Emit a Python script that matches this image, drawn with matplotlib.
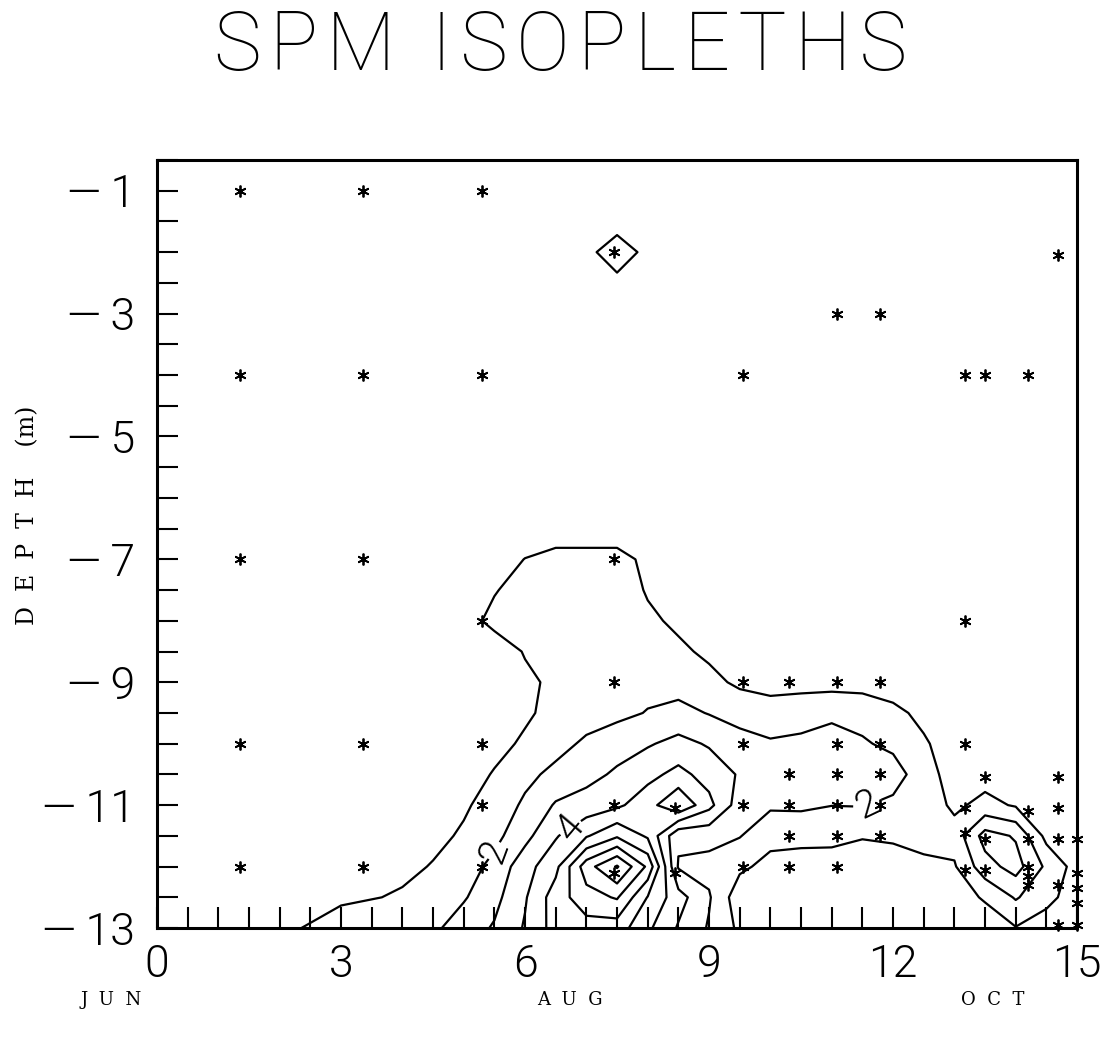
import numpy as np
import matplotlib.pyplot as plt
from matplotlib.ticker import FixedLocator, MultipleLocator

plt.rcParams['font.family'] = ['Roboto', 'DejaVu Sans']

# sampling grid (time index, depth in m) for the gridded SPM field
x_nodes = [0, 1, 2, 3, 4, 4.5, 5, 5.5, 6, 6.5, 7, 7.5, 8, 8.5, 9, 9.5,
           10, 10.5, 11, 11.5, 12, 12.5, 13, 13.5, 14, 14.5, 15]
depth_nodes = [-13, -12.5, -12, -11.5, -11, -10.5, -10, -9.5, -9, -8.5,
               -8, -7.5, -7, -6.5, -6]

spm_m13 = [0.3, 0.5, 0.7, 1.55, 1.7, 1.8, 2.5, 3.1, 4.1, 5.4, 5.6, 5.5, 4.2, 2.9,
           1.9, 0.8, 0.5, 0.5, 0.5, 0.5, 0.5, 0.5, 0.5, 0.5, 0.95, 0.5, 0.4]
spm_m12_5 = [0.3, 0.5, 0.7, 0.8, 1.1, 1.5, 1.9, 2.7, 3.9, 5.5, 6.6, 7.1, 4.95, 3.4,
             2.1, 0.4, 0.5, 0.5, 0.5, 0.5, 0.5, 0.5, 0.6, 1.1, 2.1, 1.3, 0.5]
spm_m12 = [0.3, 0.5, 0.6, 0.7, 0.8, 1.05, 1.5, 2.3, 3.6, 4.72, 7.57, 9.1, 6.8, 1.9,
           1.7, 1.2, 0.7, 0.7, 0.75, 0.6, 0.7, 0.8, 0.9, 2.6, 3.4, 1.8, 0.6]
spm_m11_5 = [0.3, 0.5, 0.6, 0.65, 0.7, 0.8, 1.1, 1.7, 2.7, 3.9, 4.9, 5.86, 4.85, 2.2,
             2.3, 2.05, 1.3, 1.2, 1.15, 1.05, 1.1, 1.3, 1.4, 3.4, 2.9, 0.7, 0.4]
spm_m11 = [0.3, 0.5, 0.6, 0.6, 0.65, 0.7, 0.9, 1.3, 2.2, 3.1, 3.4, 3.8, 4.6, 5.9,
           4.3, 2.5, 2.15, 2.2, 2.02, 2.05, 1.8, 1.6, 0.8, 1.3, 0.9, 0.5, 0.4]
spm_m10_5 = [0.3, 0.4, 0.5, 0.55, 0.6, 0.65, 0.7, 1.05, 1.7, 2.3, 2.7, 3.15, 3.7, 4.3,
             3.6, 2.9, 2.5, 2.5, 2.5, 2.5, 2.4, 1.5, 0.5, 0.6, 0.5, 0.4, 0.4]
spm_m10 = [0.3, 0.4, 0.5, 0.5, 0.55, 0.6, 0.65, 0.8, 1.1, 1.6, 2.2, 2.6, 2.9, 3.3,
           2.9, 2.3, 2.1, 2.15, 2.2, 2.1, 1.8, 1.1, 0.6, 0.5, 0.4, 0.4, 0.4]
spm_m9_5 = [0.3, 0.4, 0.4, 0.5, 0.5, 0.55, 0.6, 0.7, 0.9, 1.2, 1.5, 1.74, 2.05, 2.3,
            1.95, 1.7, 1.5, 1.7, 1.9, 1.7, 1.2, 0.8, 0.5, 0.4, 0.4, 0.4, 0.4]
spm_m9 = [0.3, 0.4, 0.4, 0.4, 0.45, 0.5, 0.55, 0.65, 0.85, 1.15, 1.4, 1.6, 1.7, 1.6,
          1.3, 0.8, 0.6, 0.6, 0.6, 0.6, 0.6, 0.6, 0.5, 0.4, 0.4, 0.4, 0.4]
spm_m8_5 = [0.3, 0.35, 0.4, 0.4, 0.4, 0.45, 0.5, 0.6, 1.05, 1.3, 1.45, 1.5, 1.45, 1.2,
            0.8, 0.5, 0.5, 0.45, 0.45, 0.45, 0.45, 0.45, 0.4, 0.4, 0.4, 0.4, 0.4]
spm_m8 = [0.3, 0.35, 0.4, 0.4, 0.4, 0.45, 0.7, 1.2, 1.35, 1.45, 1.5, 1.5, 1.2, 0.8,
          0.5, 0.45, 0.45, 0.45, 0.45, 0.45, 0.45, 0.45, 0.4, 0.4, 0.4, 0.4, 0.4]
spm_m7_5 = [0.3, 0.35, 0.4, 0.4, 0.4, 0.45, 0.6, 0.95, 1.3, 1.45, 1.55, 1.6, 0.9, 0.6,
            0.5, 0.45, 0.45, 0.45, 0.45, 0.45, 0.45, 0.45, 0.4, 0.4, 0.4, 0.4, 0.4]
spm_m7 = [0.3, 0.35, 0.4, 0.4, 0.4, 0.45, 0.45, 0.6, 1.02, 1.3, 1.3, 1.3, 0.8, 0.5,
          0.45, 0.45, 0.45, 0.45, 0.45, 0.45, 0.45, 0.45, 0.4, 0.4, 0.4, 0.4, 0.4]
spm_m6_5 = [0.3, 0.35, 0.4, 0.4, 0.4, 0.4, 0.4, 0.45, 0.5, 0.5, 0.5, 0.5, 0.45, 0.45,
            0.4, 0.4, 0.4, 0.4, 0.4, 0.4, 0.4, 0.4, 0.4, 0.4, 0.4, 0.4, 0.4]
spm_m6 = [0.4] * 27

spm = np.array([spm_m13, spm_m12_5, spm_m12, spm_m11_5, spm_m11, spm_m10_5,
                spm_m10, spm_m9_5, spm_m9, spm_m8_5, spm_m8, spm_m7_5, spm_m7,
                spm_m6_5, spm_m6])

# small near-surface patch around the isolated high sample
surf_x = [7.0, 7.5, 8.0]
surf_depth = [-2.5, -2.0, -1.5]
surf_spm = np.array([[0.3, 0.5, 0.3],
                     [0.5, 2.0, 0.5],
                     [0.3, 0.2, 0.3]])

plain_levels = [1, 3, 5, 6, 7, 8, 9]
label_pos = {2: [(5.55, -11.75), (11.6, -11.0)],
             4: [(6.7, -11.35)]}

# sample stations
stn_x = ([1.35] * 5 + [3.35] * 5 + [5.3] * 6 + [7.45] * 5 + [8.45] * 2
         + [9.55] * 5 + [10.3] * 5 + [11.08] * 7 + [11.78] * 6
         + [13.18] * 6 + [13.5] * 4 + [14.2] * 6 + [14.69] * 6 + [15.0] * 5)
stn_depth = ([-1, -4, -7, -10, -12] + [-1, -4, -7, -10, -12]
             + [-1, -4, -8, -10, -11, -12] + [-2, -7, -9, -11, -12.1]
             + [-11.05, -12.1] + [-4, -9, -10, -11, -12]
             + [-9, -10.5, -11, -11.5, -12]
             + [-3, -9, -10, -10.5, -11, -11.5, -12]
             + [-3, -9, -10, -10.5, -11, -11.5]
             + [-4, -8, -10, -11.05, -11.45, -12.05]
             + [-4, -10.55, -11.55, -12.05]
             + [-4, -11.1, -11.55, -12.0, -12.15, -12.3]
             + [-2.05, -10.55, -11.05, -11.55, -12.3, -12.95]
             + [-11.55, -12.1, -12.35, -12.6, -12.95])

fig = plt.figure(figsize=(11.09, 10.51), dpi=100)
ax = fig.add_axes([0.1416, 0.117, 0.8296, 0.7308])

ax.contour(x_nodes, depth_nodes, spm, levels=plain_levels,
           colors='black', linewidths=1.6)
for lev, pos in label_pos.items():
    cs = ax.contour(x_nodes, depth_nodes, spm, levels=[lev],
                    colors='black', linewidths=1.6)
    for t in ax.clabel(cs, inline=True, fmt='%d', fontsize=28, manual=pos):
        t.set_fontweight(300)
ax.contour(surf_x, surf_depth, surf_spm, levels=[1],
           colors='black', linewidths=1.6)

ax.plot(stn_x, stn_depth, linestyle='none', marker=(6, 2, 0), ms=8.5,
        mew=1.3, color='black', clip_on=False)

ax.set_xlim(0, 15)
ax.set_ylim(-13, -0.5)

xt = [0, 3, 6, 9, 12, 15]
yt = [-13, -11, -9, -7, -5, -3, -1]
ax.xaxis.set_major_locator(FixedLocator(xt))
ax.yaxis.set_major_locator(FixedLocator(yt))
ax.xaxis.set_minor_locator(MultipleLocator(0.5))
ax.yaxis.set_minor_locator(MultipleLocator(0.5))
ax.set_xticklabels([str(v) for v in xt])
ax.set_yticklabels(['\u2014\u2009' + str(-v) for v in yt])
ax.tick_params(which='both', direction='in', length=15, width=1.5,
               top=False, right=False)
ax.tick_params(axis='x', pad=11, labelsize=32)
ax.tick_params(axis='y', pad=16, labelsize=32)
for lab in ax.get_xticklabels() + ax.get_yticklabels():
    lab.set_fontweight(300)

for sp in ax.spines.values():
    sp.set_linewidth(2.2)

title = '\u200a'.join('SPM ISOPLETHS')
fig.text(0.505, 0.955, title, ha='center', va='center',
         fontsize=58, fontweight=100)
fig.text(0.025, 0.51, 'D  E  P  T  H    (m)', rotation=90, ha='center',
         va='center', fontsize=17, family='DejaVu Serif')

months = ['J  U  N', 'A  U  G', 'O  C  T']
month_x = [0.100, 0.514, 0.895]
for m, mx in zip(months, month_x):
    fig.text(mx, 0.0485, m, ha='center', va='center', fontsize=13,
             family='DejaVu Serif')

fig.savefig('out.png', dpi=100)
